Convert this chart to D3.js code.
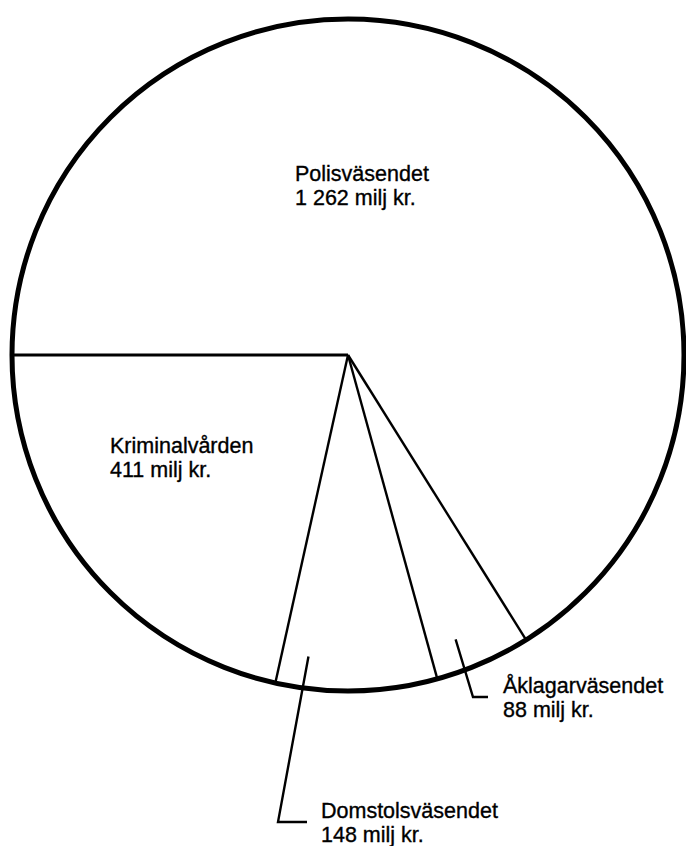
<!DOCTYPE html>
<html lang="sv">
<head>
<meta charset="UTF-8">
<title>Rättsväsendets kostnader</title>
<script src="https://cdn.jsdelivr.net/npm/d3@7/dist/d3.min.js"></script>
<style>
  body { margin: 0; background: #fff; }
  svg text { font-family: "Liberation Sans", Arial, Helvetica, sans-serif; font-size: 21.5px; fill: #000; stroke: #000; stroke-width: 0.35px; }
</style>
</head>
<body>
<script>
// data, clockwise from 9 o'clock
var names  = ['Polisväsendet', 'Åklagarväsendet', 'Domstolsväsendet', 'Kriminalvården'];
var values = [1262, 88, 148, 411];
var amountLabels = ['1 262 milj kr.', '88 milj kr.', '148 milj kr.', '411 milj kr.'];

var width = 686, height = 846,
    cx = 348, cy = 355, r = 336;

// where each label sits (text start, first baseline) and leader settings
var labelPos = [
  { x: 295, y: 181, leader: null },
  { x: 503, y: 693, leader: { t: 0.68, rf: 0.905, dx: -30, tick: 15 } },
  { x: 321, y: 818, leader: { t: 0.82, rf: 0.905, dx: -43, tick: 14 } },
  { x: 110, y: 453, leader: null }
];

var svg = d3.select('body').append('svg')
    .attr('width', width)
    .attr('height', height);

var g = svg.append('g')
    .attr('transform', 'translate(' + cx + ',' + cy + ')');

var pie = d3.pie()
    .sort(null)
    .startAngle(-Math.PI / 2)
    .endAngle(3 * Math.PI / 2)
    .value(function(d) { return d; });

var arcs = pie(values);

var arc = d3.arc().innerRadius(0).outerRadius(r);

g.selectAll('path.slice')
    .data(arcs)
  .enter().append('path')
    .attr('class', 'slice')
    .attr('d', arc)
    .attr('fill', '#fff');

function polar(a, rad) {
  return [Math.sin(a) * rad, -Math.cos(a) * rad];
}

// slice borders
g.selectAll('line.border')
    .data(arcs)
  .enter().append('line')
    .attr('class', 'border')
    .attr('x1', 0).attr('y1', 0)
    .attr('x2', function(d) { return polar(d.startAngle, r)[0]; })
    .attr('y2', function(d) { return polar(d.startAngle, r)[1]; })
    .attr('stroke', '#000')
    .attr('stroke-width', function(d, i) { return i === 0 ? 3 : 2.4; });

// outer ring
g.append('circle')
    .attr('r', r)
    .attr('fill', 'none')
    .attr('stroke', '#000')
    .attr('stroke-width', 5);

// leader lines from inside the small slices out to their labels
arcs.forEach(function(d, i) {
  var L = labelPos[i].leader;
  if (!L) return;
  var a = d.startAngle + (d.endAngle - d.startAngle) * L.t;
  var p = polar(a, r * L.rf);
  var bx = labelPos[i].x - cx + L.dx,
      by = labelPos[i].y - cy + 4;
  g.append('path')
      .attr('d', d3.line()([p, [bx, by], [bx + (-L.dx - L.tick), by]]))
      .attr('fill', 'none')
      .attr('stroke', '#000')
      .attr('stroke-width', 2.4);
});

var labels = svg.selectAll('text.lbl')
    .data(arcs)
  .enter().append('text')
    .attr('class', 'lbl')
    .attr('x', function(d, i) { return labelPos[i].x; })
    .attr('y', function(d, i) { return labelPos[i].y; });

labels.append('tspan')
    .text(function(d, i) { return names[i]; });

labels.append('tspan')
    .attr('x', function(d, i) { return labelPos[i].x; })
    .attr('dy', 24)
    .text(function(d, i) { return amountLabels[i]; });
</script>
</body>
</html>
